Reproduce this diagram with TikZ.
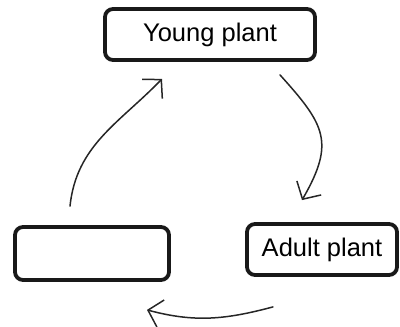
\documentclass[tikz,border=0pt]{standalone}
\usepackage{fontspec}
\setmainfont{Liberation Sans}
\usetikzlibrary{arrows.meta}

\begin{document}
\begin{tikzpicture}[x=1pt, y=1pt,
    stageBox/.style={rectangle, rounded corners=8pt, draw=black!90, line width=3.8pt, fill=white, inner sep=2pt, font=\fontsize{25.5}{30}\selectfont},
    cycleArrow/.style={draw=black!85, line width=1.5pt, line cap=round, -{Straight Barb[length=13pt, width=28pt, line width=1.5pt]}}]

    \useasboundingbox (0,0) rectangle (400,327);

    % Stages of the life cycle
    \node[stageBox, minimum width=210pt, minimum height=51pt] (young) at (210, 292.5) {Young plant};
    \node[stageBox, minimum width=150pt, minimum height=51pt] (adult) at (322, 77.5) {Adult plant};
    \node[stageBox, minimum width=154pt, minimum height=53pt] (blank) at (92, 73.5) {};

    % Arrows round the cycle
    \draw[cycleArrow] ([shift={(70,-13)}]young.south) to[out=-48, in=60, looseness=1.35] ([shift={(-20,22)}]adult.north);
    \draw[cycleArrow] ([shift={(-49,-30)}]adult.south) to[out=195, in=-15] ([shift={(55,-28)}]blank.south);
    \draw[cycleArrow] ([shift={(-22,19)}]blank.north) to[out=84, in=226] ([shift={(-48,-17)}]young.south);

\end{tikzpicture}
\end{document}
